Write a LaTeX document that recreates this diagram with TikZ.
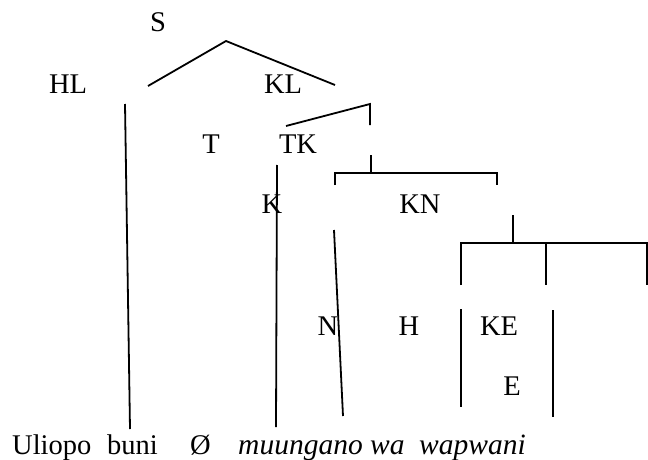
\documentclass[tikz,border=0pt]{standalone}
\usepackage{fontspec}
\setmainfont{Liberation Serif}
\begin{document}
\begin{tikzpicture}[x=1pt,y=-1pt,
  lbl/.style={inner sep=0pt,anchor=base,font=\fontsize{28.5}{30}\selectfont},
  wrd/.style={inner sep=0pt,anchor=base west,font=\fontsize{28.5}{30}\selectfont},
  iwrd/.style={inner sep=0pt,anchor=base west,font=\fontsize{29.5}{31}\selectfont\itshape},
  br/.style={line width=1.8pt}]
\useasboundingbox (0,0) rectangle (648,460);
% labels
\node[lbl] (S) at (158,32) {S};
\node[lbl] (HL) at (68,93) {HL};
\node[lbl] (KL) at (283,93) {KL};
\node[lbl] (T) at (211,153) {T};
\node[lbl] (TK) at (298,153) {TK};
\node[lbl] (K) at (272,213) {K};
\node[lbl] (KN) at (420,213) {KN};
\node[lbl] (N) at (328,335) {N};
\node[lbl] (H) at (409,335) {H};
\node[lbl] (KE) at (499,335) {KE};
\node[lbl] (E) at (512,395) {E};
% words
\node[wrd] (w1) at (12,454) {Uliopo};
\node[wrd] (w2) at (107,454) {buni};
\node[wrd] (w3) at (190,454) {Ø};
\node[iwrd] (w4) at (238,454) {muungano};
\node[iwrd] (w5) at (370,454) {wa};
\node[iwrd] (w6) at (419,454) {wapwani};
% coordinates
\coordinate (a1) at (148,86);
\coordinate (a2) at (226,41);
\coordinate (a3) at (335,85);
\coordinate (b1) at (125,104);
\coordinate (b2) at (130,429);
\coordinate (c1) at (286,126);
\coordinate (c2) at (370,104);
\coordinate (c3) at (370,125);
\coordinate (d1) at (371,155);
\coordinate (d2) at (371,173);
\coordinate (d3) at (335,173);
\coordinate (d4) at (335,185);
\coordinate (d5) at (497,173);
\coordinate (d6) at (497,185);
\coordinate (e1) at (277,165);
\coordinate (e2) at (276,427);
\coordinate (f1) at (334,230);
\coordinate (f2) at (343,416);
\coordinate (g1) at (513,215);
\coordinate (g2) at (513,243);
\coordinate (g3) at (461,243);
\coordinate (g4) at (461,285);
\coordinate (g5) at (647,243);
\coordinate (g6) at (647,285);
\coordinate (g7) at (546,242);
\coordinate (g8) at (546,285);
\coordinate (h1) at (461,309);
\coordinate (h2) at (461,407);
\coordinate (i1) at (553,310);
\coordinate (i2) at (553,417);
% lines
\draw[br] (a1) -- (a2) -- (a3);
\draw[br] (b1) -- (b2);
\draw[br] (c1) -- (c2) -- (c3);
\draw[br] (d1) -- (d2);
\draw[br] (d4) -- (d3) -- (d5) -- (d6);
\draw[br] (e1) -- (e2);
\draw[br] (f1) -- (f2);
\draw[br] (g1) -- (g2);
\draw[br] (g4) -- (g3) -- (g5) -- (g6);
\draw[br] (g7) -- (g8);
\draw[br] (h1) -- (h2);
\draw[br] (i1) -- (i2);
\end{tikzpicture}
\end{document}
